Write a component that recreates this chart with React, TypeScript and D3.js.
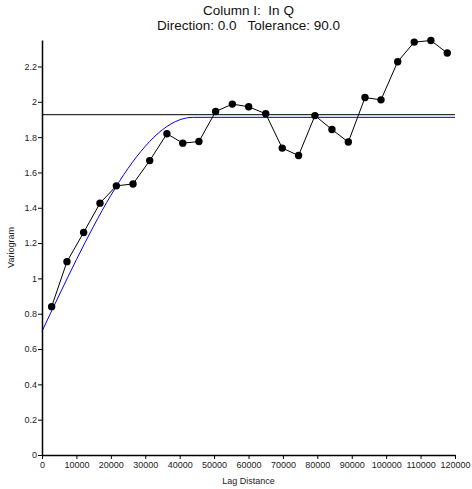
import React, { useEffect, useRef } from "react";
import * as d3 from "d3";

// experimental variogram (lag distance, gamma)
const lagDistances = [
  2800, 7260, 12100, 16850, 21600, 26450, 31300, 36300, 40900, 45600, 50450, 55300, 60050,
  65000, 69800, 74550, 79300, 84250, 89000, 93850, 98500, 103350, 108150, 113000, 117750,
];
const gammaValues = [
  0.84, 1.095, 1.26, 1.426, 1.524, 1.535, 1.667, 1.819, 1.766, 1.775, 1.945, 1.987, 1.972,
  1.932, 1.738, 1.696, 1.922, 1.843, 1.772, 2.024, 2.011, 2.227, 2.338, 2.347, 2.276,
];

// fitted model curve
const modelLags = [0, 5000, 10000, 15000, 20000, 25000, 30000, 35000, 40000, 44000, 120000];
const modelGamma = [0.7, 0.906, 1.106, 1.296, 1.47, 1.623, 1.748, 1.842, 1.898, 1.912, 1.912];

const sampleVariance = 1.927;

const xTicks = [0, 10000, 20000, 30000, 40000, 50000, 60000, 70000, 80000, 90000, 100000, 110000, 120000];
const yTicks = [0, 0.2, 0.4, 0.6, 0.8, 1, 1.2, 1.4, 1.6, 1.8, 2, 2.2];

const App = () => {
  const svgRef = useRef<SVGSVGElement>(null);

  useEffect(() => {
    if (!svgRef.current) return;
    const margin = { top: 40, right: 17, bottom: 34, left: 42 };
    const width = 472 - margin.left - margin.right;
    const height = 489 - margin.top - margin.bottom;
    const font = "Liberation Sans, Arial, sans-serif";

    const root = d3.select(svgRef.current);
    root.selectAll("*").remove();

    const svg = root.append("g").attr("transform", `translate(${margin.left},${margin.top})`);

    const x = d3.scaleLinear().domain([0, 120000]).range([0, width]);
    const y = d3.scaleLinear().domain([0, 2.35]).range([height, 0]);

    const titles = ["Column I:  In Q", "Direction: 0.0   Tolerance: 90.0"];
    titles.forEach((t, i) => {
      root.append("text")
        .attr("x", margin.left + width / 2)
        .attr("y", 15 + i * 15)
        .attr("text-anchor", "middle")
        .attr("xml:space", "preserve")
        .style("font-family", font)
        .style("font-size", "13.5px")
        .style("white-space", "pre")
        .attr("fill", "#111")
        .text(t);
    });

    // sample variance line
    svg.append("line")
      .attr("x1", 0).attr("x2", width)
      .attr("y1", y(sampleVariance)).attr("y2", y(sampleVariance))
      .attr("stroke", "black").attr("stroke-width", 1);

    // model
    const modelData = modelLags.map((d, i) => [d, modelGamma[i]] as [number, number]);
    svg.append("path")
      .datum(modelData)
      .attr("fill", "none")
      .attr("stroke", "#0000ff")
      .attr("stroke-width", 1)
      .attr("d", d3.line().x(d => x(d[0])).y(d => y(d[1])).curve(d3.curveMonotoneX));

    // experimental
    const pts = lagDistances.map((d, i) => [d, gammaValues[i]] as [number, number]);
    svg.append("path")
      .datum(pts)
      .attr("fill", "none")
      .attr("stroke", "black")
      .attr("stroke-width", 1)
      .attr("d", d3.line().x(d => x(d[0])).y(d => y(d[1])));
    svg.selectAll(".dot")
      .data(pts)
      .enter().append("circle")
      .attr("class", "dot")
      .attr("cx", d => x(d[0]))
      .attr("cy", d => y(d[1]))
      .attr("r", 3.7)
      .attr("fill", "black");

    const xAxis = svg.append("g")
      .attr("transform", `translate(0,${height})`)
      .call(d3.axisBottom(x).tickValues(xTicks).tickSize(4).tickSizeOuter(0).tickFormat(d => String(d)));
    const yAxis = svg.append("g")
      .call(d3.axisLeft(y).tickValues(yTicks).tickSize(4).tickSizeOuter(0).tickFormat(d => String(+(+d).toFixed(1))));

    [xAxis, yAxis].forEach(g => {
      g.select(".domain").attr("stroke", "black").attr("stroke-width", 1.5);
      g.selectAll("line").attr("stroke", "black");
      g.selectAll("text").style("font-family", font).style("font-size", "9px").attr("fill", "#222");
    });
    xAxis.selectAll("text").attr("dy", "0.71em").attr("y", 7);
    yAxis.selectAll("text").attr("x", -5);

    root.append("text")
      .attr("x", margin.left + width / 2)
      .attr("y", 484)
      .attr("text-anchor", "middle")
      .style("font-family", font)
      .style("font-size", "9px")
      .attr("fill", "#222")
      .text("Lag Distance");
    root.append("text")
      .attr("transform", `translate(14,${margin.top + height / 2}) rotate(-90)`)
      .attr("text-anchor", "middle")
      .style("font-family", font)
      .style("font-size", "9px")
      .attr("fill", "#222")
      .text("Variogram");
  }, []);

  return (
    <div style={{ position: "absolute", left: 0, top: 0 }}>
      <svg ref={svgRef} width={472} height={489} style={{ display: "block", background: "white" }}></svg>
    </div>
  );
};

export default App;
